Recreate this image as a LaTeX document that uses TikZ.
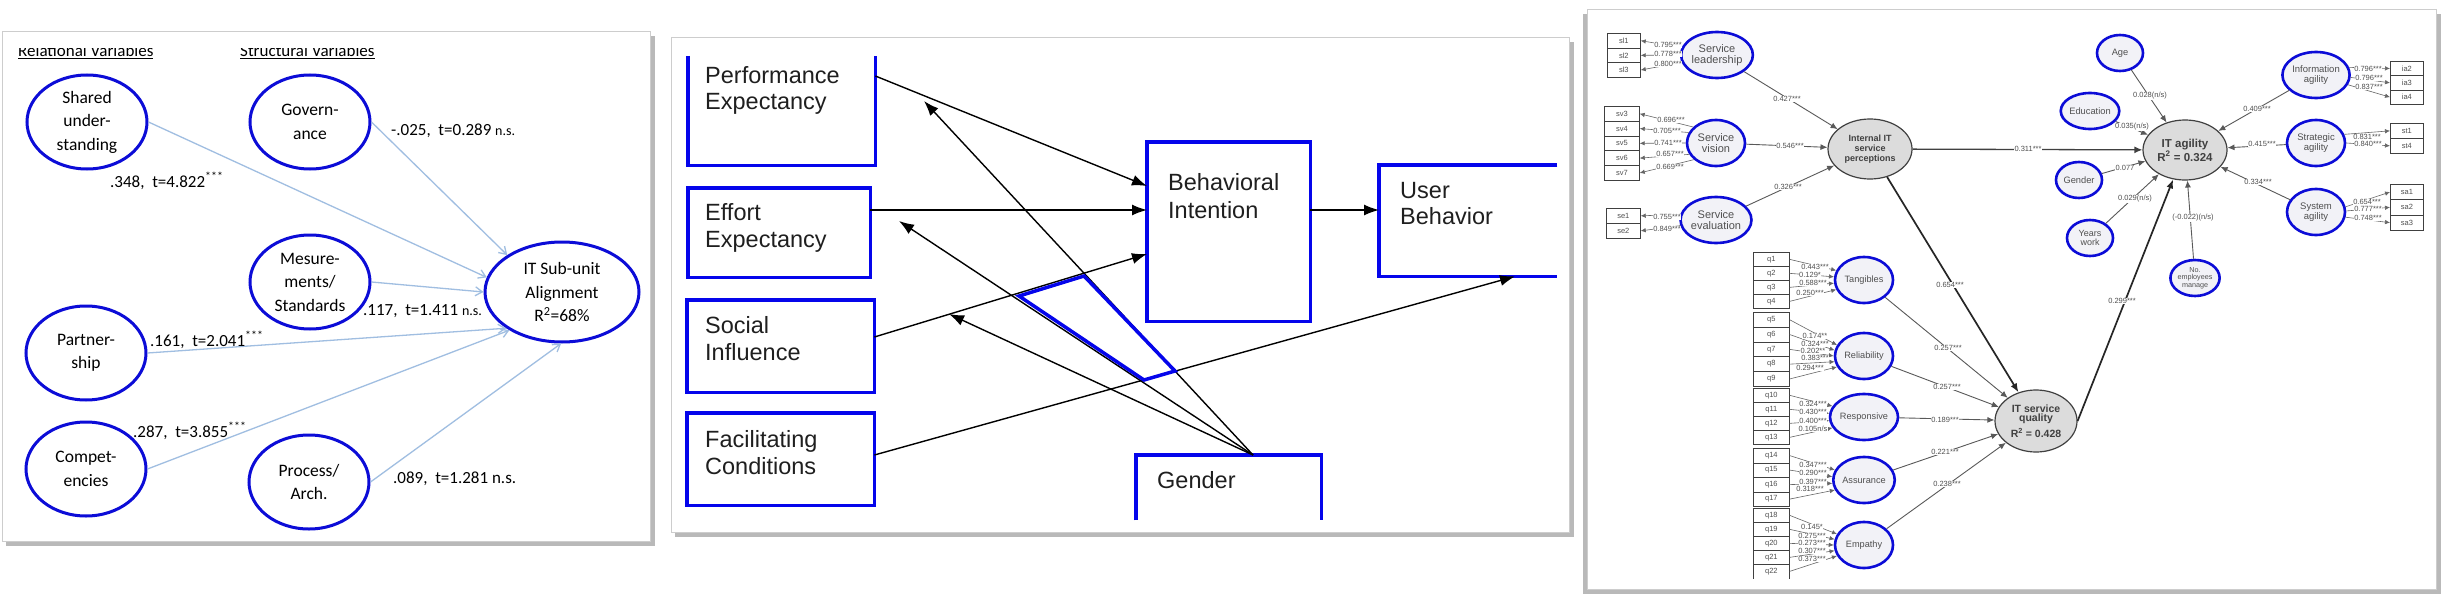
\documentclass[tikz,border=0pt]{standalone}
\usepackage{fontspec}
\setmainfont{Liberation Sans}
\newfontfamily\calib{Carlito}
\usetikzlibrary{arrows.meta,shapes.geometric}
\definecolor{eblue}{RGB}{12,12,215}
\definecolor{bblue}{RGB}{5,5,235}
\definecolor{lblue}{RGB}{160,190,225}
\definecolor{pgray}{RGB}{205,205,205}
\definecolor{shgray}{RGB}{185,185,185}
\definecolor{tgray}{RGB}{80,80,80}
\definecolor{efill}{RGB}{242,242,247}
\definecolor{cfill}{RGB}{220,220,220}
\tikzset{
 panel/.style={draw=pgray,fill=white,line width=1},
 pshadow/.style={fill=shgray,draw=none},
 lell/.style={ellipse,draw=eblue,line width=3,minimum width=120,minimum height=94,inner sep=0,align=center,font=\calib\fontsize{17.5}{23.5}\selectfont},
 llab/.style={font=\calib\fontsize{17}{20}\selectfont,anchor=base west,inner sep=0},
 larr/.style={draw=lblue,line width=1.3,-{Straight Barb[length=7,width=9]}},
 mbox/.style={draw=none,inner sep=0,anchor=north west},
 mline/.style={draw=bblue,line width=3.5},
 mtxt/.style={font=\fontsize{23.5}{27}\selectfont,anchor=base west,inner sep=0,text=black!88},
 marr/.style={draw=black,line width=1.4,-{Latex[length=15,width=11]}},
 rell/.style={ellipse,draw=eblue,line width=2.6,fill=efill,inner sep=0,align=center,text=tgray,minimum width=58,minimum height=46,font=\fontsize{11}{11.5}\selectfont},
 fell/.style={rell,font=\fontsize{9.2}{10}\selectfont},
 aell/.style={rell,font=\fontsize{9.5}{10.5}\selectfont},
 sell/.style={rell,minimum width=46,minimum height=36,font=\fontsize{9.3}{10}\selectfont},
 cell/.style={ellipse,draw=black!75,line width=1.2,fill=cfill,inner sep=0,align=center,text=black!75},
 ibox/.style={draw=black!75,line width=0.7,fill=white,inner sep=0,anchor=north west,text=tgray,font=\fontsize{7.5}{8}\selectfont},
 rarr/.style={draw=black!60,line width=0.6,-{Latex[length=5,width=4.5]}},
 sarr/.style={draw=black!65,line width=0.9,-{Latex[length=7,width=6]}},
 tarr/.style={draw=black!85,line width=1.7,-{Latex[length=9,width=7]}},
 rl/.style={font=\fontsize{7.5}{8}\selectfont,text=tgray,fill=white,inner sep=0.4},
}
\begin{document}
\begin{tikzpicture}[x=1pt,y=-1pt]
\useasboundingbox (0,0) rectangle (2447,602);
\fill[white] (0,0) rectangle (2447,602);
% ---------- panels
\fill[pshadow] (6,36) rectangle (655,546);
\draw[panel] (2,32) rectangle (650,541);
\fill[pshadow] (675,42) rectangle (1574,537);
\draw[panel] (671,38) rectangle (1569,532);
\fill[pshadow] (1583,14) rectangle (2441,594);
\draw[panel] (1587,10) rectangle (2436,589);

% ---------- left panel
\begin{scope}
\clip (0,49) rectangle (655,100);
\node[llab] (hrel) at (18,57) {\underline{Relational Variables}};
\node[llab] (hstr) at (240,57) {\underline{Structural Variables}};
\end{scope}
\node[lell] (shared) at (87,122) {Shared\\under-\\standing};
\node[lell] (gov) at (310,122) {Govern-\\ance};
\node[lell] (mes) at (310,282) {Mesure-\\ments/\\Standards};
\node[lell] (part) at (86,353) {Partner-\\ship};
\node[lell] (comp) at (86,469) {Compet-\\encies};
\node[lell] (proc) at (309,482) {Process/\\Arch.};
\node[lell,minimum width=154,minimum height=100] (itsu) at (562,292) {IT Sub-unit\\Alignment\\R\textsuperscript{2}=68\%};
\draw[larr] (gov.east) -- (itsu.146);
\draw[larr] (shared.east) -- (itsu.169);
\draw[larr] (mes.east) -- (itsu.180);
\draw[larr] (part.east) -- (itsu.213);
\draw[larr] (comp.east) -- (itsu.216);
\draw[larr] (proc.east) -- (itsu.269);
\node[llab] (l1) at (110,187) {.348,\ \ t=4.822\textsuperscript{***}};
\node[llab] (l2) at (391,135) {-.025,\ \ t=0.289 {\fontsize{14}{16}\selectfont n.s.}};
\node[llab] (l3) at (363,315) {.117,\ \ t=1.411 {\fontsize{14}{16}\selectfont n.s.}};
\node[llab] (l4) at (150,346) {.161,\ \ t=2.041\textsuperscript{***}};
\node[llab] (l5) at (133,437) {.287,\ \ t=3.855\textsuperscript{***}};
\node[llab] (l6) at (393,483) {.089,\ \ t=1.281 n.s.};

% ---------- middle panel
\node[mbox,minimum width=187,minimum height=109] (perf) at (688,56) {};
\node[mbox,minimum width=182,minimum height=89] (eff) at (688,188) {};
\node[mbox,minimum width=187,minimum height=92] (soc) at (687,300) {};
\node[mbox,minimum width=187,minimum height=92] (fac) at (687,413) {};
\node[mbox,minimum width=163,minimum height=179] (bi) at (1147,142) {};
\node[mbox,minimum width=178,minimum height=111] (ub) at (1379,165) {};
\node[mbox,minimum width=185,minimum height=65] (gen) at (1136,455) {};
\draw[mline] (perf.north west) -- (perf.south west) -- (perf.south east) -- (perf.north east);
\draw[mline] (eff.north west) rectangle (eff.south east);
\draw[mline] (soc.north west) rectangle (soc.south east);
\draw[mline] (fac.north west) rectangle (fac.south east);
\draw[mline] (bi.north west) rectangle (bi.south east);
\draw[mline] (ub.north east) -- (ub.north west) -- (ub.south west) -- (ub.south east);
\draw[mline] (gen.south west) -- (gen.north west) -- (gen.north east) -- (gen.south east);
\node[mtxt] at (705,83) {Performance};
\node[mtxt] at (705,110) {Expectancy};
\node[mtxt] at (705,220) {Effort};
\node[mtxt] at (705,247) {Expectancy};
\node[mtxt] at (705,333) {Social};
\node[mtxt] at (705,360) {Influence};
\node[mtxt] at (705,447) {Facilitating};
\node[mtxt] at (705,474) {Conditions};
\node[mtxt] at (1168,190) {Behavioral};
\node[mtxt] at (1168,218) {Intention};
\node[mtxt] at (1400,198) {User};
\node[mtxt] at (1400,224) {Behavior};
\node[mtxt] at (1157,488) {Gender};
\draw[marr] ([yshift=-20]perf.north east) -- ([yshift=-44]bi.north west);
\draw[marr] ([yshift=-22]eff.north east) -- ([yshift=-68]bi.north west);
\draw[marr] ([yshift=-37]soc.north east) -- ([yshift=-112]bi.north west);
\draw[marr] ([yshift=-68]bi.north east) -- ([yshift=-45]ub.north west);
\draw[marr] ([yshift=-42]fac.north east) -- ([xshift=136]ub.south west);
\coordinate (g1) at (924,101);
\coordinate (g2) at (899,221);
\coordinate (g3) at (949,314);
\draw[marr] ([xshift=117]gen.north west) -- (g1);
\draw[marr] ([xshift=117]gen.north west) -- (g2);
\draw[marr] ([xshift=117]gen.north west) -- (g3);
\draw[mline,line join=miter] (1019,296) -- (1084,276) -- (1175,371) -- (1144,380) -- cycle;

% ---------- right panel: boxes
\foreach \n [count=\i] in {sl1,sl2,sl3} \node[ibox,minimum width=33,minimum height=14.67] (\n) at (1607,{33+(\i-1)*14.67}) {\n};
\foreach \n [count=\i] in {sv3,sv4,sv5,sv6,sv7} \node[ibox,minimum width=35,minimum height=14.8] (\n) at (1604,{106+(\i-1)*14.8}) {\n};
\foreach \n [count=\i] in {se1,se2} \node[ibox,minimum width=34,minimum height=15] (\n) at (1606,{208+(\i-1)*15}) {\n};
\foreach \n [count=\i] in {q1,q2,q3,q4} \node[ibox,minimum width=36,minimum height=14] (\n) at (1753,{252+(\i-1)*14}) {\n};
\foreach \n [count=\i] in {q5,q6,q7,q8,q9} \node[ibox,minimum width=36,minimum height=14.8] (\n) at (1753,{312+(\i-1)*14.8}) {\n};
\foreach \n [count=\i] in {q10,q11,q12,q13} \node[ibox,minimum width=36,minimum height=14] (\n) at (1753,{388+(\i-1)*14}) {\n};
\foreach \n [count=\i] in {q14,q15,q16,q17} \node[ibox,minimum width=36,minimum height=14.5] (\n) at (1753,{448+(\i-1)*14.5}) {\n};
\foreach \n [count=\i] in {q18,q19,q20,q21} \node[ibox,minimum width=36,minimum height=14] (\n) at (1753,{508+(\i-1)*14}) {\n};
\node[ibox,draw=none,fill=none,minimum width=36,minimum height=14] (q22) at (1753,564) {q22};
\draw[black!75,line width=0.7] (q22.south west) -- (q22.north west) -- (q22.north east) -- (q22.south east);
\foreach \n [count=\i] in {ia2,ia3,ia4} \node[ibox,minimum width=33,minimum height=14.33] (\n) at (2390,{61+(\i-1)*14.33}) {\n};
\foreach \n [count=\i] in {st1,st4} \node[ibox,minimum width=33,minimum height=15] (\n) at (2390,{123+(\i-1)*15}) {\n};
\foreach \n [count=\i] in {sa1,sa2,sa3} \node[ibox,minimum width=33,minimum height=15.33] (\n) at (2390,{184+(\i-1)*15.33}) {\n};

% ---------- right panel: constructs
\node[rell] (sl) at (1717,55) {Service\\leadership};
\node[rell] (sv) at (1716,143) {Service\\vision};
\node[rell] (se) at (1716,220) {Service\\evaluation};
\node[cell,minimum width=84,minimum height=60,font=\bfseries\fontsize{9}{10.3}\selectfont] (iitsp) at (1870,149) {Internal IT\\service\\perceptions};
\node[cell,minimum width=84,minimum height=60,font=\bfseries\fontsize{11.5}{14}\selectfont] (itag) at (2185,150) {IT agility\\R\textsuperscript{2} = 0.324};
\node[cell,minimum width=82,minimum height=62,font=\bfseries\fontsize{10.5}{9.5}\selectfont] (itsq) at (2036,421) {IT service\\quality\\[3pt]R\textsuperscript{2} = 0.428};
\node[fell] (tan) at (1864,280) {Tangibles};
\node[fell] (rel) at (1864,356) {Reliability};
\node[fell] (res) at (1864,417) {Responsive};
\node[fell] (ass) at (1864,480) {Assurance};
\node[fell] (emp) at (1864,545) {Empathy};
\node[sell] (age) at (2120,53) {Age};
\node[sell] (edu) at (2090,111) {Education};
\node[sell] (gnd) at (2079,180) {Gender};
\node[sell,font=\fontsize{9}{9}\selectfont] (yw) at (2090,238) {Years\\work};
\node[sell,font=\fontsize{7.2}{7.6}\selectfont] (noe) at (2195,278) {No.\\employees\\manage};
\node[aell] (ia) at (2316,75) {Information\\agility};
\node[aell] (sta) at (2316,143) {Strategic\\agility};
\node[aell] (sya) at (2316,212) {System\\agility};

% ---------- right panel: indicator arrows
\foreach \n/\a in {sl1/168,sl2/180,sl3/192} \draw[rarr] (sl.\a) -- (\n.east);
\foreach \n/\a in {sv3/145,sv4/159,sv5/180,sv6/203,sv7/217} \draw[rarr] (sv.\a) -- (\n.east);
\foreach \n/\a in {se1/171,se2/189} \draw[rarr] (se.\a) -- (\n.east);
\foreach \n/\a in {ia2/13,ia3/-4,ia4/-17} \draw[rarr] (ia.\a) -- (\n.west);
\foreach \n/\a in {st1/17,st4/0} \draw[rarr] (sta.\a) -- (\n.west);
\foreach \n/\a in {sa1/10,sa2/2,sa3/-10} \draw[rarr] (sya.\a) -- (\n.west);
\foreach \n/\a in {q1/161,q2/174,q3/186,q4/199} \draw[rarr] (\n.east) -- (tan.\a);
\foreach \n/\a in {q5/158,q6/169,q7/180,q8/191,q9/202} \draw[rarr] (\n.east) -- (rel.\a);
\foreach \n/\a in {q10/161,q11/174,q12/186,q13/199} \draw[rarr] (\n.east) -- (res.\a);
\foreach \n/\a in {q14/161,q15/174,q16/186,q17/199} \draw[rarr] (\n.east) -- (ass.\a);
\foreach \n/\a in {q18/158,q19/169,q20/180,q21/191,q22/202} \draw[rarr] (\n.east) -- (emp.\a);

% ---------- right panel: structural paths
\draw[sarr] (sl) -- (iitsp);
\draw[sarr] (sv) -- (iitsp);
\draw[sarr] (se) -- (iitsp);
\draw[draw=black!75,line width=1.3,-{Latex[length=8,width=7]}] (iitsp) -- (itag);
\draw[tarr] (iitsp) -- (itsq);
\draw[tarr] (itsq.east) -- (itag.248);
\foreach \s in {age,edu,gnd,yw,noe,ia,sta,sya} \draw[sarr] (\s) -- (itag);
\foreach \s in {tan,rel,res,ass,emp} \draw[sarr] (\s) -- (itsq);

% ---------- right panel: labels
\foreach \t/\x/\y in {0.795***/1668/45,0.778***/1668/54,0.800***/1668/64,
  0.696***/1671/120,0.705***/1667/131,0.741***/1668/143,0.657***/1670/154,0.669***/1670/167,
  0.755***/1667/217,0.849***/1667/229,
  0.796***/2368/69,0.796***/2369/78,0.837***/2369/87,
  0.831***/2367/137,0.840***/2368/144,
  0.654***/2367/202,0.777***/2368/209,0.748***/2368/218,
  0.443***/1815/267,0.129*/1810/275,0.588***/1813/283,0.250***/1810/293,
  0.174**/1815/336,0.324***/1815/344,0.202**/1813/351,0.383***/1815/358,0.294***/1810/368,
  0.324***/1813/404,0.430***/1813/412,0.400***/1813/421,{0.105n/s}/1813/429,
  0.347***/1813/465,0.290***/1813/473,0.397***/1813/482,0.318***/1810/489,
  0.145*/1812/527,0.275***/1812/536,0.273***/1812/543,0.307***/1812/551,0.373***/1812/559,
  0.427***/1787/99,0.546***/1790/146,0.326***/1788/187,0.311***/2028/149,0.654***/1950/285,
  {0.028(n/s)}/2150/96,{0.035(n/s)}/2132/127,0.077/2125/168,{0.029(n/s)}/2135/199,
  {(-0.022)(n/s)}/2193/218,0.299***/2122/301,0.409***/2257/109,0.415***/2262/144,0.334***/2258/182,
  0.257***/1948/348,0.257***/1947/387,0.189***/1945/420,0.221***/1945/452,0.238***/1947/484}
  \node[rl] at (\x,\y) {\t};
\end{tikzpicture}
\end{document}
